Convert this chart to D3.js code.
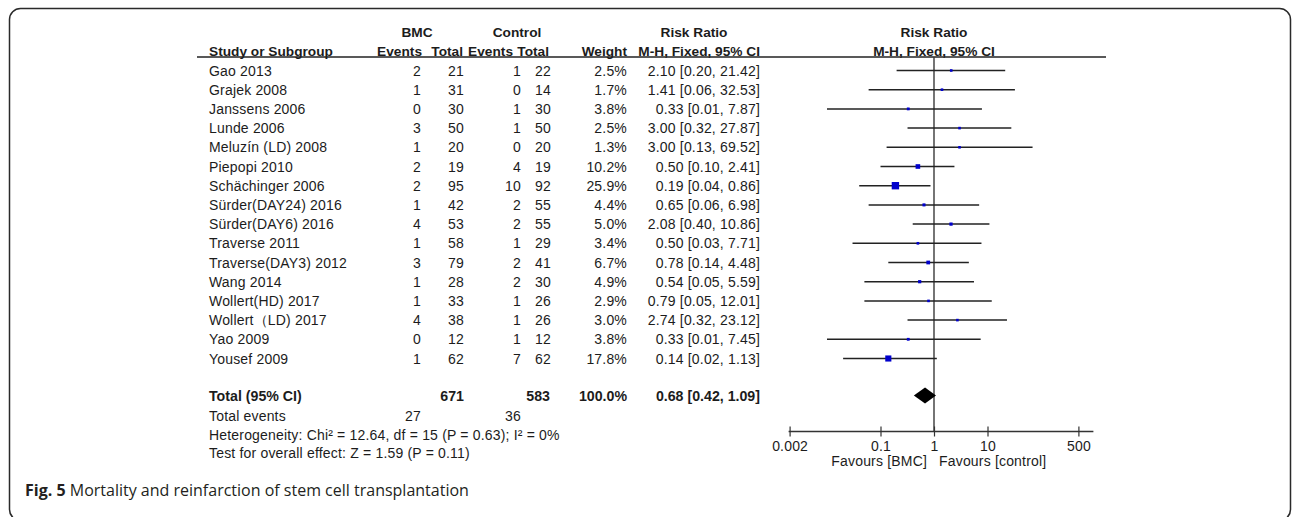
<!DOCTYPE html>
<html>
<head>
<meta charset="utf-8">
<script src="https://cdn.jsdelivr.net/npm/d3@7"></script>
<style>
  body { margin: 0; background: #fff; }
  svg text { font-family: "Liberation Sans", Arial, sans-serif; font-size: 14px; fill: #1c1c1c; letter-spacing: 0.18px; }
  svg .bold text { font-weight: bold; font-size: 13.7px; letter-spacing: 0; }
  svg .bold.totals text { font-size: 14.2px; }
</style>
</head>
<body>
<svg id="chart" width="1292" height="517"></svg>
<script>
// study data
const studies = ["Gao 2013", "Grajek 2008", "Janssens 2006", "Lunde 2006", "Meluzín (LD) 2008",
  "Piepopi 2010", "Schächinger 2006", "Sürder(DAY24) 2016", "Sürder(DAY6) 2016", "Traverse 2011",
  "Traverse(DAY3) 2012", "Wang 2014", "Wollert(HD) 2017", "Wollert（LD) 2017", "Yao 2009", "Yousef 2009"];
const bmcEvents  = [2, 1, 0, 3, 1, 2, 2, 1, 4, 1, 3, 1, 1, 4, 0, 1];
const bmcTotal   = [21, 31, 30, 50, 20, 19, 95, 42, 53, 58, 79, 28, 33, 38, 12, 62];
const ctrlEvents = [1, 0, 1, 1, 0, 4, 10, 2, 2, 1, 2, 2, 1, 1, 1, 7];
const ctrlTotal  = [22, 14, 30, 50, 20, 19, 92, 55, 55, 29, 41, 30, 26, 26, 12, 62];
const weights    = [2.5, 1.7, 3.8, 2.5, 1.3, 10.2, 25.9, 4.4, 5.0, 3.4, 6.7, 4.9, 2.9, 3.0, 3.8, 17.8];
const riskRatio  = [2.10, 1.41, 0.33, 3.00, 3.00, 0.50, 0.19, 0.65, 2.08, 0.50, 0.78, 0.54, 0.79, 2.74, 0.33, 0.14];
const ciLow      = [0.20, 0.06, 0.01, 0.32, 0.13, 0.10, 0.04, 0.06, 0.40, 0.03, 0.14, 0.05, 0.05, 0.32, 0.01, 0.02];
const ciHigh     = [21.42, 32.53, 7.87, 27.87, 69.52, 2.41, 0.86, 6.98, 10.86, 7.71, 4.48, 5.59, 12.01, 23.12, 7.45, 1.13];

const totalBmc = 671, totalCtrl = 583, totalWeight = 100.0;
const pooled = { rr: 0.68, lo: 0.42, hi: 1.09 };
const totalEventsBmc = 27, totalEventsCtrl = 36;
const heterogeneity = "Heterogeneity: Chi² = 12.64, df = 15 (P = 0.63); I² = 0%";
const overallTest = "Test for overall effect: Z = 1.59 (P = 0.11)";
const axisTicks = [0.002, 0.1, 1, 10, 500];

const svg = d3.select("#chart");

// frame
svg.append("rect")
    .attr("x", 9.5).attr("y", 8.5)
    .attr("width", 1281).attr("height", 512)
    .attr("rx", 11).attr("ry", 11)
    .attr("fill", "none").attr("stroke", "#2a2a2a").attr("stroke-width", 1.5);

/* Scales */
let x = d3.scaleLog().domain([0.002, 500]).range([789.6, 1078.4]);
let y = d3.scalePoint().domain(studies).range([70.5, 358.5]);

// column right edges (numbers) and header right edges
const col = { name: 209, bmcE: 421, bmcT: 464, ctrlE: 521, ctrlT: 551, weight: 627, rr: 760 };
const hcol = { bmcE: 422, bmcT: 463, ctrlE: 513, ctrlT: 549 };

/* Headers */
const hdr = svg.append("g").attr("class", "bold");
hdr.append("text").attr("x", 417).attr("y", 36.5).attr("text-anchor", "middle").text("BMC");
hdr.append("text").attr("x", 517).attr("y", 36.5).attr("text-anchor", "middle").text("Control");
hdr.append("text").attr("x", 694).attr("y", 36.5).attr("text-anchor", "middle").text("Risk Ratio");
hdr.append("text").attr("x", x(1)).attr("y", 36.5).attr("text-anchor", "middle").text("Risk Ratio");
hdr.append("text").attr("x", col.name).attr("y", 55.5).text("Study or Subgroup");
[["Events", hcol.bmcE], ["Total", hcol.bmcT], ["Events", hcol.ctrlE], ["Total", hcol.ctrlT], ["Weight", col.weight], ["M-H, Fixed, 95% CI", col.rr]]
  .forEach(([t, cx]) => hdr.append("text").attr("x", cx).attr("y", 55.5).attr("text-anchor", "end").text(t));
hdr.append("text").attr("x", x(1)).attr("y", 55.5).attr("text-anchor", "middle").text("M-H, Fixed, 95% CI");

svg.append("line")
    .attr("x1", 197).attr("x2", 1106).attr("y1", 57).attr("y2", 57)
    .attr("stroke", "#222").attr("stroke-width", 1.3);

/* Study rows */
const rows = svg.append("g").selectAll("g")
    .data(studies).enter()
    .append("g")
    .attr("transform", d => `translate(0, ${y(d) + 5})`);

rows.append("text").attr("x", col.name).text(d => d);
const cellsRight = [
  [col.bmcE, i => bmcEvents[i]],
  [col.bmcT, i => bmcTotal[i]],
  [col.ctrlE, i => ctrlEvents[i]],
  [col.ctrlT, i => ctrlTotal[i]],
  [col.weight, i => weights[i].toFixed(1) + "%"],
  [col.rr, i => `${riskRatio[i].toFixed(2)} [${ciLow[i].toFixed(2)}, ${ciHigh[i].toFixed(2)}]`]
];
cellsRight.forEach(([cx, fn]) => {
  rows.append("text").attr("x", cx).attr("text-anchor", "end").text((d, i) => fn(i));
});

/* Totals */
const yTot = 395.5;
const tot = svg.append("g").attr("class", "bold totals");
tot.append("text").attr("x", col.name).attr("y", yTot + 5).text("Total (95% CI)");
tot.append("text").attr("x", col.bmcT).attr("y", yTot + 5).attr("text-anchor", "end").text(totalBmc);
tot.append("text").attr("x", col.ctrlT - 1).attr("y", yTot + 5).attr("text-anchor", "end").text(totalCtrl);
tot.append("text").attr("x", col.weight).attr("y", yTot + 5).attr("text-anchor", "end").text(totalWeight.toFixed(1) + "%");
tot.append("text").attr("x", col.rr).attr("y", yTot + 5).attr("text-anchor", "end")
    .text(`${pooled.rr.toFixed(2)} [${pooled.lo.toFixed(2)}, ${pooled.hi.toFixed(2)}]`);

svg.append("text").attr("x", col.name).attr("y", 420.5).text("Total events");
svg.append("text").attr("x", col.bmcE).attr("y", 420.5).attr("text-anchor", "end").text(totalEventsBmc);
svg.append("text").attr("x", col.ctrlE).attr("y", 420.5).attr("text-anchor", "end").text(totalEventsCtrl);
svg.append("text").attr("x", col.name).attr("y", 439.5).text(heterogeneity);
svg.append("text").attr("x", col.name).attr("y", 458).text(overallTest);

/* Forest plot */
const axisY = 431.5;
svg.append("line")
    .attr("x1", x(1)).attr("x2", x(1)).attr("y1", 57).attr("y2", axisY)
    .attr("stroke", "#3a3a3a").attr("stroke-width", 1.4);

const plot = svg.append("g");
plot.selectAll(".ci")
    .data(studies).enter()
    .append("line")
    .attr("class", "ci")
    .attr("x1", (d, i) => x(ciLow[i]))
    .attr("x2", (d, i) => x(ciHigh[i]))
    .attr("y1", d => y(d)).attr("y2", d => y(d))
    .attr("stroke", "#222").attr("stroke-width", 1.5);

plot.selectAll(".box")
    .data(studies).enter()
    .append("rect")
    .attr("class", "box")
    .each(function(d, i) {
      let s = Math.max(2.6, 1.45 * Math.sqrt(weights[i]));
      d3.select(this)
          .attr("x", x(riskRatio[i]) - s / 2)
          .attr("y", y(d) - s / 2)
          .attr("width", s).attr("height", s);
    })
    .attr("fill", "#0000cc");

let diamond = d3.line()
    .x(d => x(d[0]))
    .y(d => yTot + d[1]);
plot.append("path")
    .attr("d", diamond([[pooled.lo, 0], [pooled.rr, -8], [pooled.hi, 0], [pooled.rr, 8]]) + "Z")
    .attr("fill", "#000");

/* Axis */
let xAxis = d3.axisBottom(x)
    .tickValues(axisTicks)
    .tickFormat(d => String(d))
    .tickSize(5)
    .tickSizeOuter(0);

let ax = svg.append("g")
    .attr("transform", `translate(0, ${axisY})`)
    .call(xAxis);
ax.select(".domain")
    .attr("d", `M${x.range()[0] - 1},0H${x.range()[1] + 15}`)
    .attr("stroke", "#333").attr("stroke-width", 1.3);
ax.selectAll(".tick line").attr("y1", -5).attr("y2", 5).attr("stroke", "#333").attr("stroke-width", 1.2);
ax.selectAll(".tick text")
    .attr("y", 10)
    .style("font-family", '"Liberation Sans", Arial, sans-serif')
    .style("font-size", "14px")
    .style("letter-spacing", "0.18px")
    .attr("fill", "#1c1c1c");

svg.append("text").attr("x", x(1) - 7).attr("y", 465.5).attr("text-anchor", "end").text("Favours [BMC]");
svg.append("text").attr("x", x(1) + 5).attr("y", 465.5).text("Favours [control]");

/* Caption */
const cap = svg.append("text")
    .attr("x", 25).attr("y", 496)
    .style("font-family", '"Open Sans", sans-serif')
    .style("font-size", "16px")
    .style("letter-spacing", "0")
    .style("fill", "#231f20");
cap.append("tspan").attr("font-weight", "bold").text("Fig. 5");
cap.append("tspan").text(" Mortality and reinfarction of stem cell transplantation");
</script>
</body>
</html>
